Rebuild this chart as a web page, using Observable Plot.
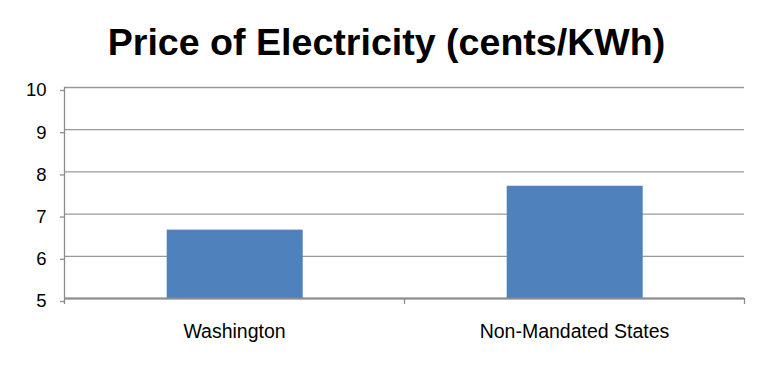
<!DOCTYPE html>
<html>
<head>
<meta charset="utf-8">
<script src="https://cdn.jsdelivr.net/npm/d3@7"></script>
<script src="https://cdn.jsdelivr.net/npm/@observablehq/plot@0.6"></script>
<style>
  html, body { margin: 0; padding: 0; background: #fff; }
  #title {
    width: 769px; height: 46px; padding-top: 23px;
    font-family: "Liberation Sans", Arial, sans-serif; font-weight: bold;
    font-size: 37.6px; line-height: 38px; text-align: center; color: #000;
    white-space: nowrap; box-sizing: content-box;
  }
  #title span { display: inline-block; transform: translateX(2px); }
</style>
</head>
<body>
<div id="title"><span>Price of Electricity (cents/KWh)</span></div>
<div id="chart"></div>
<script>
const title = "Price of Electricity (cents/KWh)";
const categories = ["Washington", "Non-Mandated States"];
const values = [6.62, 7.66];
const yTicks = [5, 6, 7, 8, 9, 10];

const data = categories.map((c, i) => ({ i, category: c, value: values[i] }));
const boundaries = d3.range(categories.length + 1);
const centers = categories.map((c, i) => i + 0.5);

const gray = "#999999";
const axisGray = "#8c8c8c";

const chart = Plot.plot({
  width: 769,
  height: 297,
  marginTop: 18,
  marginBottom: 68,
  marginLeft: 64,
  marginRight: 25,
  style: { fontFamily: "'Liberation Sans', Arial, sans-serif", background: "#fff" },
  x: { type: "linear", domain: [0, categories.length], axis: null },
  y: { domain: [5, 10], axis: null },
  marks: [
    Plot.gridY(yTicks, { stroke: gray, strokeOpacity: 1, strokeWidth: 1.3 }),
    Plot.rectY(data, {
      x1: "i", x2: d => d.i + 1, y1: 5, y2: "value",
      insetLeft: 102.7, insetRight: 101.3, fill: "#4f81bd"
    }),
    Plot.ruleX([0], { y1: 5, y2: 10, stroke: axisGray, strokeWidth: 1.3 }),
    Plot.ruleY([5], { stroke: axisGray, strokeWidth: 2 }),
    Plot.axisY(yTicks, {
      tickSize: 4, tickPadding: 14, stroke: axisGray, strokeWidth: 1.3,
      fontSize: 18.5, fill: "#000", dy: 3, label: null
    }),
    Plot.axisX(boundaries, {
      tickSize: 6, tickFormat: () => "", stroke: axisGray, strokeWidth: 1.3, label: null
    }),
    Plot.axisX(centers, {
      tickSize: 0, tickPadding: 26, fontSize: 19.5, fill: "#000",
      tickFormat: (d) => categories[Math.floor(d)], label: null
    })
  ]
});
document.getElementById("chart").appendChild(chart);
</script>
</body>
</html>
